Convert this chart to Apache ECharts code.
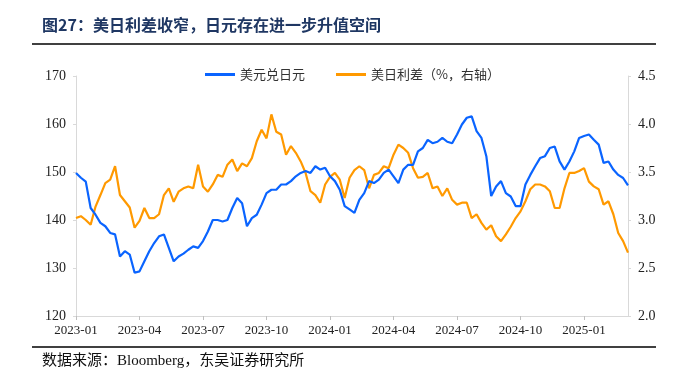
<!DOCTYPE html>
<html>
<head>
<meta charset="utf-8">
<script src="https://cdn.jsdelivr.net/npm/echarts@6/dist/echarts.min.js"></script>
<style>html,body{margin:0;padding:0;background:#fff}#c{width:686px;height:377px}</style>
</head>
<body>
<div id="c"></div>
<script>
// Quarter tick labels (one every 13 weekly points)
const tickLabels = ['2023-01','2023-04','2023-07','2023-10','2024-01','2024-04','2024-07','2024-10','2025-01'];
// USD/JPY (left axis), weekly readings
const usdjpy = [
149.8,148.8,148.0,142.5,141.1,139.4,138.7,137.3,137.0,132.4,
133.5,132.8,129.0,129.3,131.4,133.5,135.2,136.6,137.0,134.2,
131.4,132.4,133.0,133.8,134.5,134.2,135.6,137.6,140.0,140.0,
139.7,140.0,142.5,144.6,143.5,138.7,140.4,141.1,143.2,145.6,
146.3,146.3,147.4,147.4,148.1,149.1,149.8,150.2,149.8,151.2,
150.5,150.9,149.1,148.1,146.3,142.9,142.2,141.5,144.2,145.6,
148.1,147.7,148.4,149.8,150.5,149.1,147.7,150.5,151.5,151.5,
154.3,155.0,156.7,156.0,156.3,157.1,156.3,156.0,157.8,159.9,
161.3,161.6,158.5,157.1,153.3,145.0,147.0,148.1,145.6,144.9,
142.9,142.9,147.4,149.4,151.2,152.9,153.3,155.0,155.3,152.2,
150.5,152.2,154.3,157.1,157.5,157.8,156.7,155.7,151.9,152.2,
150.5,149.4,148.75,147.2
];
// US-Japan 10Y spread, % (right axis), weekly readings
const spread = [
3.02,3.04,3.00,2.95,3.14,3.26,3.385,3.42,3.56,3.26,
3.195,3.13,2.92,2.99,3.125,3.02,3.02,3.06,3.26,3.33,
3.19,3.295,3.33,3.35,3.33,3.576,3.35,3.295,3.37,3.47,
3.45,3.576,3.63,3.51,3.59,3.56,3.645,3.82,3.94,3.85,
4.10,3.92,3.89,3.68,3.77,3.70,3.61,3.49,3.30,3.26,
3.18,3.37,3.45,3.49,3.42,3.23,3.44,3.52,3.56,3.52,
3.33,3.47,3.49,3.56,3.54,3.68,3.785,3.75,3.70,3.54,
3.44,3.45,3.49,3.33,3.35,3.25,3.33,3.21,3.16,3.18,
3.18,3.02,3.06,2.97,2.90,2.945,2.83,2.78,2.85,2.93,
3.02,3.09,3.195,3.32,3.37,3.37,3.35,3.30,3.125,3.125,
3.33,3.49,3.49,3.51,3.54,3.40,3.35,3.32,3.16,3.195,
3.06,2.865,2.78,2.66
];
const categories = usdjpy.map((_, i) => 'W' + i);

const chart = echarts.init(document.getElementById('c'), null, {renderer: 'canvas'});
const serif = "'Liberation Serif','Times New Roman',serif";
const cjk = "'Liberation Serif','Noto Sans CJK SC',serif";
chart.setOption({
  animation: false,
  backgroundColor: '#fff',
  grid: {left: 76, right: 58, top: 76, bottom: 61},
  legend: {
    top: 63, left: 200,
    icon: 'rect', itemWidth: 30, itemHeight: 3, itemGap: 31,
    textStyle: {fontFamily: "'Noto Sans CJK SC'", fontSize: 13, color: '#333'},
    data: ['美元兑日元', '美日利差（%，右轴）']
  },
  xAxis: {
    type: 'category', data: categories, boundaryGap: false,
    axisLine: {lineStyle: {color: '#d9d9d9', width: 1}},
    axisTick: {length: 4, lineStyle: {color: '#bfbfbf'}, interval: (i) => i % 13 === 0},
    axisLabel: {
      interval: (i) => i % 13 === 0,
      formatter: (v, i) => tickLabels[i / 13] || '',
      fontFamily: serif, fontSize: 13, color: '#222', margin: 8
    },
    splitLine: {show: false}
  },
  yAxis: [
    {type: 'value', min: 120, max: 170, interval: 10,
     axisLine: {show: true, lineStyle: {color: '#d9d9d9'}},
     axisTick: {show: true, length: 3, lineStyle: {color: '#d9d9d9'}},
     axisLabel: {fontFamily: serif, fontSize: 14, color: '#222', margin: 10},
     splitLine: {show: false}},
    {type: 'value', min: 2.0, max: 4.5, interval: 0.5,
     axisLine: {show: true, lineStyle: {color: '#d9d9d9'}},
     axisTick: {show: true, length: 3, lineStyle: {color: '#d9d9d9'}},
     axisLabel: {fontFamily: serif, fontSize: 14, color: '#222', margin: 10,
       formatter: (v) => v.toFixed(1)},
     splitLine: {show: false}}
  ],
  series: [
    {name: '美元兑日元', type: 'line', data: usdjpy, yAxisIndex: 0,
     symbol: 'none', lineStyle: {color: '#0a64ff', width: 2.2}, itemStyle: {color: '#0a64ff'}, z: 3},
    {name: '美日利差（%，右轴）', type: 'line', data: spread, yAxisIndex: 1,
     symbol: 'none', lineStyle: {color: '#ff9900', width: 2.2}, itemStyle: {color: '#ff9900'}, z: 2}
  ],
  graphic: [
    {type: 'text', left: 42, top: 17,
     style: {text: '图27：美日利差收窄，日元存在进一步升值空间', fontFamily: "'Noto Sans CJK SC'", fontWeight: 'bold', fontSize: 16, fill: '#1f3763'}},
    {type: 'line', shape: {x1: 32, y1: 44, x2: 656, y2: 44}, style: {stroke: '#000', lineWidth: 1.5}},
    {type: 'line', shape: {x1: 32, y1: 347, x2: 656, y2: 347}, style: {stroke: '#000', lineWidth: 1.5}},
    {type: 'text', left: 42, top: 354,
     style: {text: '数据来源：Bloomberg，东吴证券研究所', fontFamily: cjk, fontSize: 15, fill: '#111'}}
  ]
});
</script>
</body>
</html>
